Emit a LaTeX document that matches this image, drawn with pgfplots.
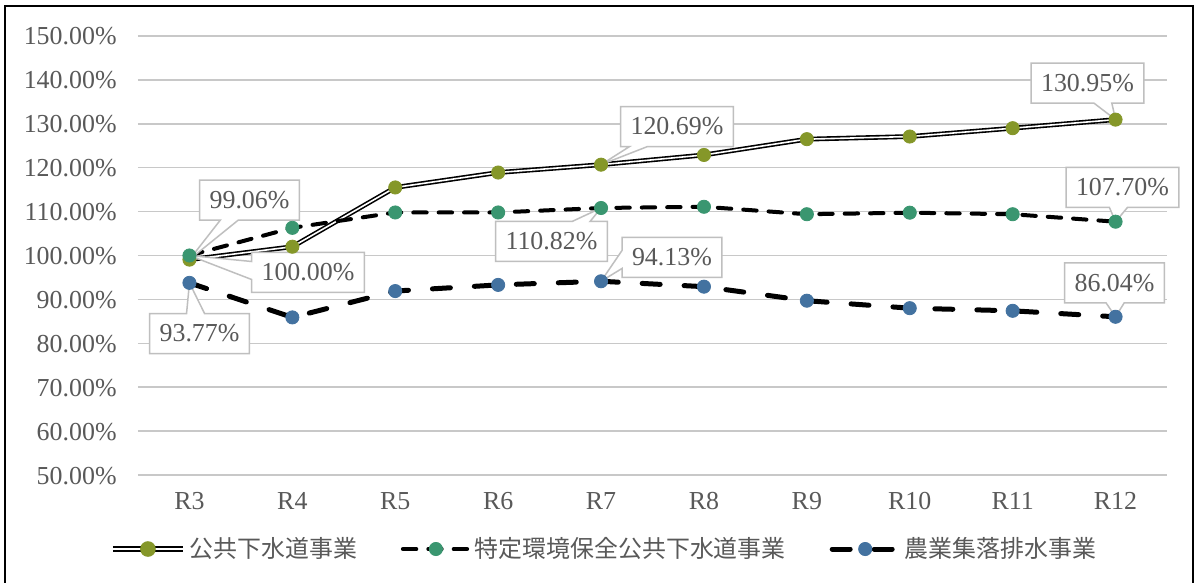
\documentclass[border=0pt]{standalone}
\usepackage{fontspec}
\setmainfont{Liberation Serif}
\newfontfamily\cjk{Noto Sans CJK JP}
\usepackage{pgfplots}
\pgfplotsset{compat=1.18}
\usepackage{pgfplotstable}
\usetikzlibrary{shapes.callouts}

\definecolor{txtgray}{HTML}{595959}
\definecolor{gridgray}{HTML}{C8C8C8}
\definecolor{boxgray}{HTML}{BFBFBF}
\definecolor{olivec}{RGB}{133,151,41}
\definecolor{greenc}{RGB}{58,150,112}
\definecolor{bluec}{RGB}{67,114,160}

% x: 1 = R3 ... 10 = R12
\pgfplotstableread{
x y
1 99.06
2 102.0
3 115.5
4 118.9
5 120.69
6 122.9
7 126.5
8 127.1
9 129.0
10 130.95
}\koukyou
\pgfplotstableread{
x y
1 100.00
2 106.3
3 109.8
4 109.8
5 110.82
6 111.1
7 109.4
8 109.75
9 109.4
10 107.70
}\tokutei
\pgfplotstableread{
x y
1 93.77
2 85.9
3 91.9
4 93.3
5 94.13
6 92.9
7 89.7
8 88.0
9 87.4
10 86.04
}\nougyou

\tikzset{lbl/.style={rectangle callout, draw=boxgray, line width=0.75bp, fill=white,
  text=txtgray, font=\fontsize{13}{15}\selectfont, inner xsep=5bp, inner ysep=0bp,
  minimum height=20bp, callout pointer width=9bp}}

\begin{document}
\begin{tikzpicture}
\clip (-69bp,-54bp) rectangle (529.5bp,237.5bp);
\fill[white] (-69bp,-54bp) rectangle (529.5bp,237.5bp);
\draw[black, line width=1.2bp] (-66.5bp,-70bp) rectangle (527.5bp,234.5bp);
\begin{axis}[
  at={(0,0)}, anchor=south west,
  scale only axis, width=514.5bp, height=219.5bp,
  xmin=0.5, xmax=10.5, ymin=50, ymax=150,
  clip=false,
  axis line style={draw=none},
  major tick length=0pt,
  xtick={1,...,10},
  xticklabels={R3,R4,R5,R6,R7,R8,R9,R10,R11,R12},
  ytick={50,60,...,150},
  yticklabels={50.00\%,60.00\%,70.00\%,80.00\%,90.00\%,100.00\%,110.00\%,120.00\%,130.00\%,140.00\%,150.00\%},
  ticklabel style={text=txtgray, font=\fontsize{13}{15}\selectfont, inner sep=0pt},
  x tick label style={anchor=base, yshift=-17bp},
  y tick label style={anchor=base east, yshift=-4.5bp, xshift=-10.5bp},
  ymajorgrids, grid style={gridgray, line width=0.75bp},
  legend columns=3,
  legend style={at={(0.454,-0.1686)}, anchor=center, draw=none, fill=none,
    font=\cjk\fontsize{12}{14}\selectfont, text=txtgray,
    /tikz/every even column/.append style={column sep=20bp}},
  legend image code/.code={\draw[mark repeat=2, mark phase=2, #1]
    plot coordinates {(0bp,0bp) (16.5bp,0bp) (33bp,0bp)};},
]
% 公共下水道事業: double line (black outer, white core)
\addplot[black, line width=2.4bp, no markers, forget plot] table[x=x,y=y] {\koukyou};
\addplot[white, line width=0.8bp, mark=*, mark size=3.3bp,
  mark options={fill=olivec, draw=olivec, solid, line width=0.4bp},
  legend image code/.code={
    \draw[black, line width=2.6bp] (0bp,0bp) -- (35bp,0bp);
    \draw[white, line width=0.9bp] (0bp,0bp) -- (35bp,0bp);
    \fill[olivec] (17.5bp,0bp) circle (3.5bp);}]
  table[x=x,y=y] {\koukyou};
\addlegendentry{公共下水道事業}
% 特定環境保全公共下水道事業
\addplot[black, line width=2bp, line cap=round, dash pattern=on 6.7bp off 6bp,
  mark=*, mark size=3.3bp, mark options={fill=greenc, draw=greenc, solid, line width=0.4bp}]
  table[x=x,y=y] {\tokutei};
\addlegendentry{特定環境保全公共下水道事業}
% 農業集落排水事業
\addplot[black, line width=2.5bp, line cap=round, dash pattern=on 9bp off 12bp,
  mark=*, mark size=3.3bp, mark options={fill=bluec, draw=bluec, solid, line width=0.4bp}]
  table[x=x,y=y] {\nougyou};
\addlegendentry{農業集落排水事業}

% data labels
\node[lbl, callout absolute pointer={(axis cs:1,99.06)}] at (axis cs:1.584,112.64) {99.06\%};
\node[lbl, callout absolute pointer={(axis cs:1,100)}] at (axis cs:2.152,96.13) {100.00\%};
\node[lbl, callout absolute pointer={(axis cs:1,93.77)}] at (axis cs:1.098,82.23) {93.77\%};
\node[lbl, callout absolute pointer={(axis cs:5,120.69)}] at (axis cs:5.738,129.38) {120.69\%};
\node[lbl, callout absolute pointer={(axis cs:5,110.82)}] at (axis cs:4.518,103.19) {110.82\%};
\node[lbl, callout absolute pointer={(axis cs:5,94.13)}] at (axis cs:5.689,99.55) {94.13\%};
\node[lbl, callout absolute pointer={(axis cs:10,130.95)}] at (axis cs:9.727,139.29) {130.95\%};
\node[lbl, callout absolute pointer={(axis cs:10,107.70)}] at (axis cs:10.067,115.49) {107.70\%};
\node[lbl, callout absolute pointer={(axis cs:10,86.04)}] at (axis cs:9.99,93.74) {86.04\%};
\end{axis}
\end{tikzpicture}
\end{document}
